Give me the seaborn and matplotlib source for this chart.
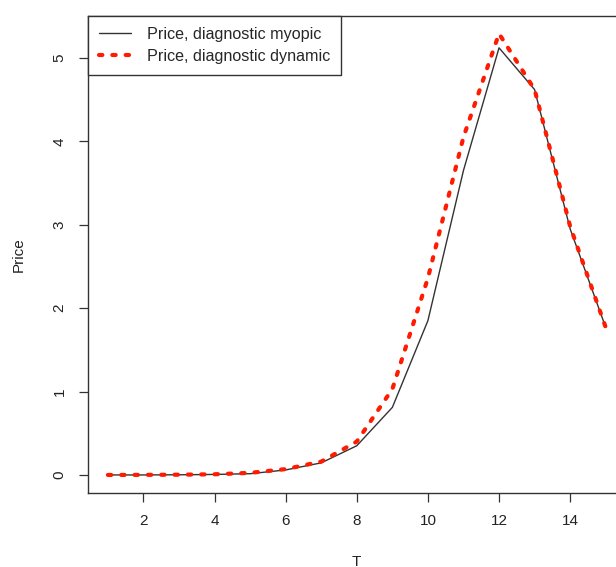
import matplotlib
matplotlib.use("Agg")
import matplotlib.pyplot as plt
import seaborn as sns
import pandas as pd

T = list(range(1, 16))
myopic = [0.0, 0.0, 0.002, 0.006, 0.015, 0.06, 0.145, 0.35, 0.81, 1.85, 3.65, 5.12, 4.62, 2.95, 1.77]
dynamic = [0.0, 0.001, 0.003, 0.008, 0.025, 0.07, 0.16, 0.40, 1.03, 2.36, 4.05, 5.29, 4.62, 2.98, 1.77]
labels = ["Price, diagnostic myopic", "Price, diagnostic dynamic"]

sns.set_theme(style="ticks")
plt.rcParams['font.family'] = ['Liberation Sans', 'DejaVu Sans']

fig = plt.figure(figsize=(6.16, 5.67), dpi=100)
ax = fig.add_axes([88/616, 1-492.6/567, (625.6-88)/616, (492.6-16)/567])

df = pd.DataFrame({"T": T, "myopic": myopic, "dynamic": dynamic})
sns.lineplot(data=df, x="T", y="myopic", ax=ax, color="#333333", lw=1.0, label=labels[0])
sns.lineplot(data=df, x="T", y="dynamic", ax=ax, color="#ff1a00", lw=3.0, label=labels[1])
line = ax.get_lines()[1]
line.set_dashes([0.8, 2.4])
line.set_dash_capstyle("round")

rng = max(dynamic) - 0
ax.set_xlim(1 - 14*0.04, 15 + 14*0.04)
ax.set_ylim(-rng*0.04, max(dynamic) + rng*0.04)
ax.set_xticks([2, 4, 6, 8, 10, 12, 14])
ax.set_yticks([0, 1, 2, 3, 4, 5])
ax.tick_params(axis="both", length=6.5, width=0.9, colors="#333333", labelsize=11, labelcolor="#222222")
ax.tick_params(axis="x", pad=9)
ax.tick_params(axis="y", pad=9)
for t in ax.get_yticklabels():
    t.set_rotation(90)
    t.set_va("center")
for s in ax.spines.values():
    s.set_visible(True)
    s.set_color("#333333")
    s.set_linewidth(1.0)
ax.set_xlabel("T", fontsize=11, color="#222222", labelpad=19)
ax.set_ylabel("Price", fontsize=11, color="#222222", labelpad=19)

leg = ax.legend(loc="upper left", bbox_to_anchor=(0, 1), borderaxespad=0, fancybox=False,
                frameon=True, fontsize=11.6, handlelength=2.0, handletextpad=1.0,
                borderpad=0.68, labelspacing=0.42)
leg.get_frame().set_edgecolor("#333333")
leg.get_frame().set_linewidth(1.0)
leg.get_frame().set_alpha(1)

fig.savefig("out.png", dpi=100)
